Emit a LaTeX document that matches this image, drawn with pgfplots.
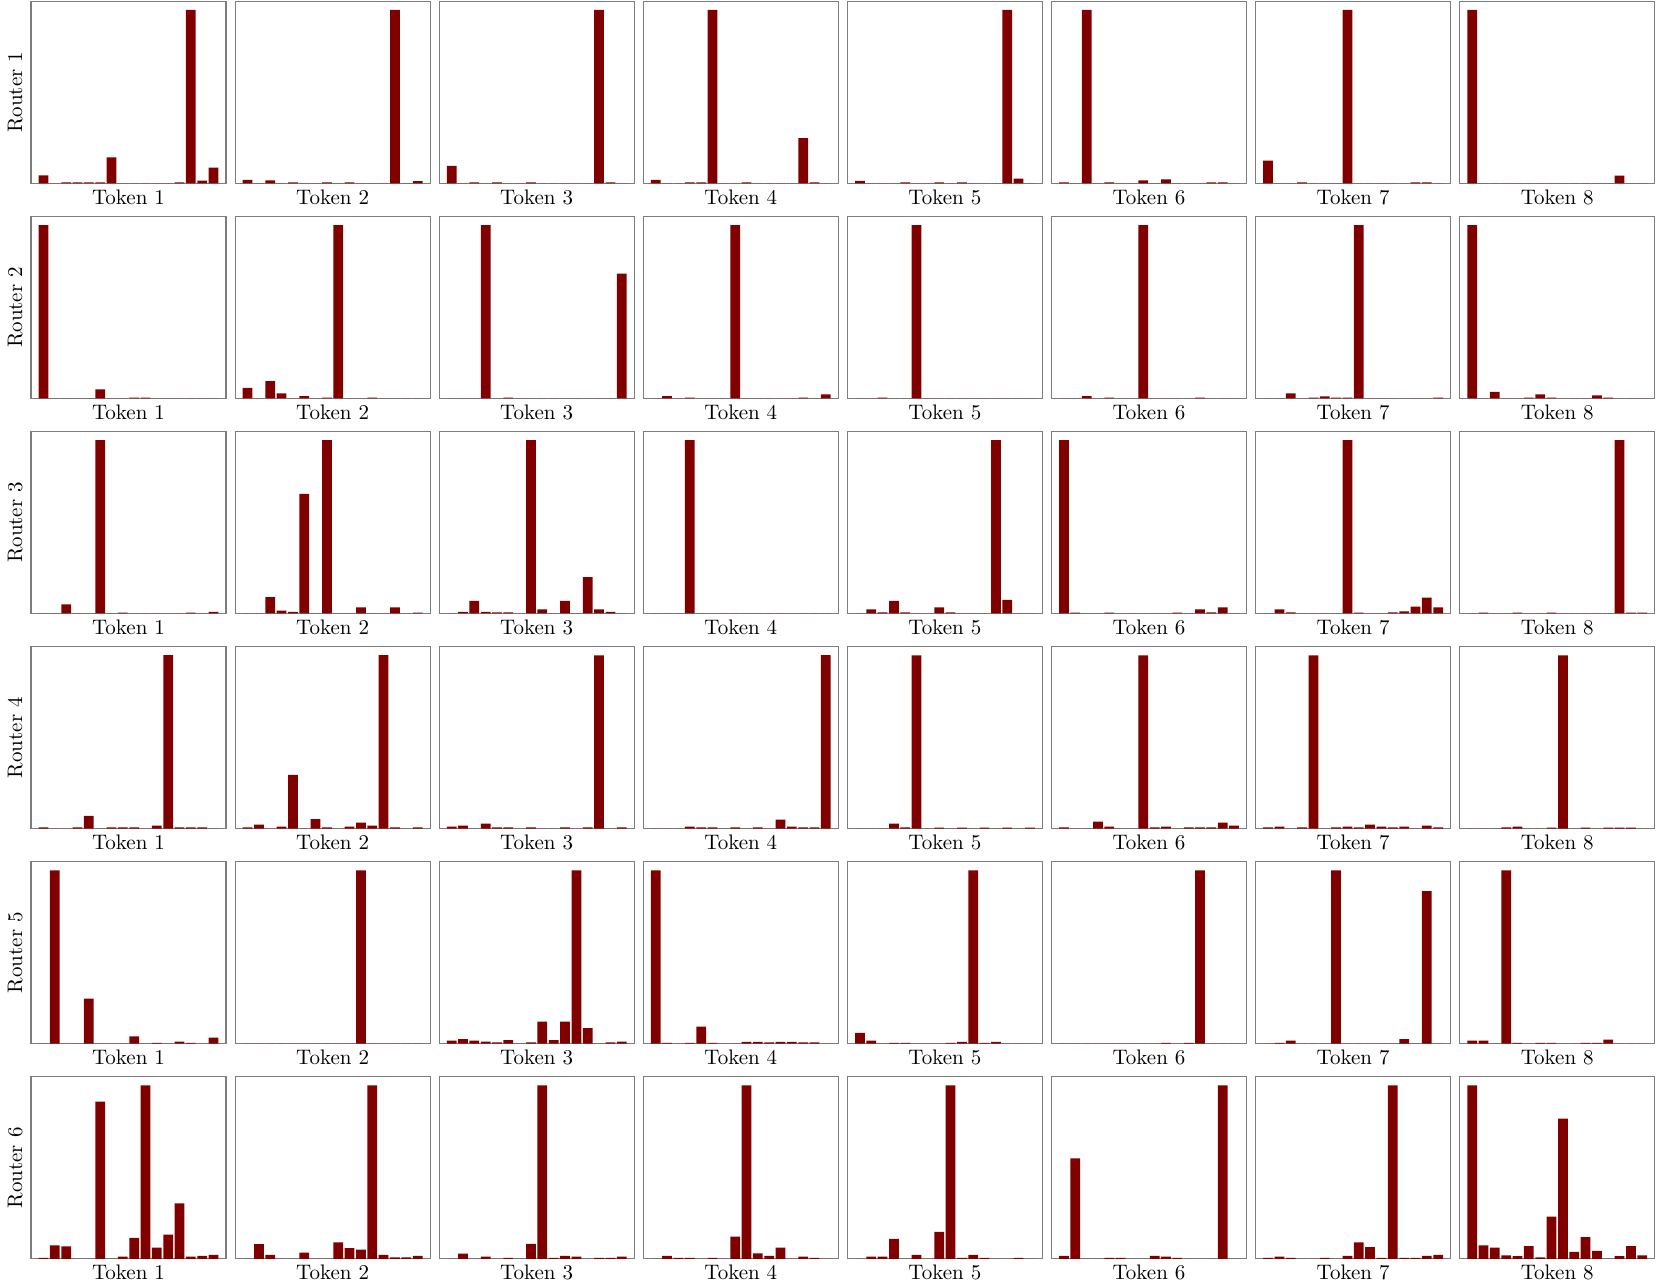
\documentclass[border=0pt]{standalone}
\usepackage{pgfplots}
\pgfplotsset{compat=1.18}
\definecolor{barred}{RGB}{128,0,0}
\definecolor{framegray}{RGB}{125,125,125}
\pgfplotsset{
  panel/.style={
    scale only axis, width=97.5pt, height=91pt,
    anchor=south west,
    xmin=-1.1, xmax=16.1, ymin=0, ymax=1.05,
    ticks=none,
    axis line style={draw=framegray, line width=0.6pt},
    every axis x label/.style={at={(axis description cs:0.5,-0.1154)}, anchor=base, inner sep=0pt, font=\fontsize{10.5}{12}\selectfont},
    every axis y label/.style={at={(axis description cs:-0.046,0.5)}, rotate=90, anchor=base, inner sep=0pt, font=\fontsize{10.5}{12}\selectfont},
    ybar, bar width=0.86, bar shift=0pt,
  }
}
\newcommand{\panel}[3]{%
\begin{axis}[panel, at={(15.5pt+102.05pt*#1,549.85pt-107.55pt*#2)},
  xlabel={Token \the\numexpr#1+1\relax},
  ylabel={\ifnum#1=0 Router \the\numexpr#2+1\relax\fi}]
\addplot[fill=barred, draw=none] table[header=false, row sep=\\, x expr=\coordindex, y index=0] {#3};
\end{axis}}
\begin{document}
\begin{tikzpicture}
\useasboundingbox (0,0) rectangle (830.5pt,641.5pt);
% Router 1
\panel{0}{0}{0.045\\0\\0.005\\0.005\\0.005\\0.005\\0.15\\0\\0\\0\\0\\0\\0.005\\1\\0.015\\0.09\\}
\panel{1}{0}{0.02\\0\\0.017\\0\\0.005\\0\\0\\0.005\\0\\0.005\\0\\0\\0\\1\\0\\0.012\\}
\panel{2}{0}{0.1\\0\\0.005\\0\\0.005\\0\\0\\0.005\\0\\0\\0\\0\\0\\1\\0.005\\0\\}
\panel{3}{0}{0.02\\0\\0\\0.005\\0.005\\1\\0\\0\\0.005\\0\\0\\0\\0\\0.26\\0.005\\0\\}
\panel{4}{0}{0.014\\0\\0\\0\\0.005\\0\\0\\0.005\\0\\0.005\\0\\0\\0\\1\\0.027\\0\\}
\panel{5}{0}{0.005\\0\\1\\0\\0.005\\0\\0\\0.017\\0\\0.023\\0\\0\\0\\0.005\\0.005\\0\\}
\panel{6}{0}{0.13\\0\\0\\0.005\\0\\0\\0\\1\\0\\0\\0\\0\\0\\0.005\\0.005\\0\\}
\panel{7}{0}{1\\0\\0\\0\\0\\0\\0\\0\\0\\0\\0\\0\\0\\0.044\\0\\0\\}
% Router 2
\panel{0}{1}{1\\0\\0\\0\\0\\0.052\\0\\0\\0.005\\0.005\\0\\0\\0\\0\\0\\0\\}
\panel{1}{1}{0.061\\0\\0.1\\0.029\\0\\0.013\\0\\0.005\\1\\0\\0\\0.005\\0\\0\\0\\0\\}
\panel{2}{1}{0\\0\\0\\1\\0\\0.005\\0\\0\\0\\0\\0\\0\\0\\0\\0\\0.72\\}
\panel{3}{1}{0\\0.013\\0\\0.005\\0\\0\\0\\1\\0\\0\\0\\0\\0\\0.005\\0\\0.023\\}
\panel{4}{1}{0\\0\\0.005\\0\\0\\1\\0\\0\\0\\0\\0\\0\\0\\0\\0\\0\\}
\panel{5}{1}{0\\0\\0.013\\0\\0.005\\0\\0\\1\\0\\0\\0\\0\\0.005\\0\\0\\0\\}
\panel{6}{1}{0\\0\\0.029\\0\\0.005\\0.012\\0.005\\0.005\\1\\0\\0\\0\\0\\0\\0\\0.005\\}
\panel{7}{1}{1\\0\\0.038\\0\\0\\0.005\\0.023\\0.005\\0\\0\\0\\0.017\\0.005\\0\\0\\0\\}
% Router 3
\panel{0}{2}{0\\0\\0.052\\0\\0\\1\\0\\0.005\\0\\0\\0\\0\\0\\0.005\\0\\0.01\\}
\panel{1}{2}{0\\0\\0.094\\0.017\\0.01\\0.69\\0\\1\\0\\0\\0.035\\0\\0\\0.035\\0\\0.005\\}
\panel{2}{2}{0\\0.01\\0.073\\0.01\\0.007\\0.007\\0\\1\\0.023\\0\\0.073\\0\\0.21\\0.023\\0.01\\0\\}
\panel{3}{2}{0\\0\\0\\1\\0\\0\\0\\0\\0\\0\\0\\0\\0\\0\\0\\0\\}
\panel{4}{2}{0\\0.023\\0.007\\0.073\\0.007\\0\\0\\0.035\\0.007\\0\\0\\0\\1\\0.079\\0\\0\\}
\panel{5}{2}{1\\0.005\\0\\0\\0.005\\0\\0\\0\\0\\0\\0.005\\0\\0.023\\0.007\\0.035\\0\\}
\panel{6}{2}{0\\0.023\\0.007\\0\\0\\0\\0\\1\\0.005\\0\\0\\0.007\\0.012\\0.04\\0.092\\0.035\\}
\panel{7}{2}{0\\0.005\\0\\0\\0.005\\0\\0\\0.005\\0\\0\\0\\0\\0\\1\\0.005\\0.005\\}
% Router 4
\panel{0}{3}{0.007\\0\\0\\0.007\\0.073\\0\\0.007\\0.007\\0.007\\0\\0.017\\1\\0.007\\0.007\\0.007\\0\\}
\panel{1}{3}{0.007\\0.023\\0\\0.012\\0.31\\0\\0.054\\0.007\\0\\0.012\\0.035\\0.017\\1\\0.007\\0\\0.007\\}
\panel{2}{3}{0.012\\0.017\\0\\0.029\\0.007\\0.007\\0\\0.007\\0\\0\\0.007\\0\\0.007\\1\\0\\0.007\\}
\panel{3}{3}{0\\0\\0\\0.012\\0.007\\0.007\\0\\0.007\\0\\0.007\\0\\0.052\\0.012\\0.007\\0.007\\1\\}
\panel{4}{3}{0\\0\\0\\0.029\\0.007\\1\\0\\0.005\\0\\0.005\\0\\0.005\\0\\0.005\\0\\0.005\\}
\panel{5}{3}{0.007\\0\\0\\0.04\\0.012\\0\\0\\1\\0.007\\0.012\\0\\0.007\\0.007\\0.007\\0.035\\0.017\\}
\panel{6}{3}{0.007\\0.012\\0\\0.007\\1\\0\\0.007\\0.012\\0.007\\0.023\\0.012\\0.007\\0.012\\0\\0.017\\0.007\\}
\panel{7}{3}{0\\0\\0\\0.007\\0.012\\0\\0\\0.005\\1\\0\\0.005\\0\\0.005\\0.005\\0.005\\0\\}
% Router 5
\panel{0}{4}{0\\1\\0\\0\\0.26\\0\\0\\0\\0.042\\0\\0.005\\0\\0.012\\0.005\\0\\0.035\\}
\panel{1}{4}{0\\0\\0\\0\\0\\0\\0\\0\\0\\0\\1\\0\\0\\0\\0\\0\\}
\panel{2}{4}{0.017\\0.027\\0.017\\0.012\\0.007\\0.021\\0\\0.007\\0.127\\0.021\\0.127\\1\\0.09\\0\\0.007\\0.012\\}
\panel{3}{4}{1\\0.005\\0\\0.005\\0.098\\0.005\\0\\0\\0.01\\0.01\\0.007\\0.01\\0.01\\0.007\\0.007\\0\\}
\panel{4}{4}{0.063\\0.017\\0\\0.005\\0.005\\0\\0\\0\\0.005\\0.01\\1\\0.005\\0.01\\0\\0\\0\\}
\panel{5}{4}{0\\0\\0\\0\\0\\0\\0\\0\\0\\0.005\\0\\0.005\\1\\0\\0\\0\\}
\panel{6}{4}{0\\0.005\\0.017\\0\\0\\0\\1\\0\\0\\0\\0\\0\\0.027\\0\\0.88\\0\\}
\panel{7}{4}{0.017\\0.017\\0\\1\\0.005\\0\\0.005\\0.005\\0\\0\\0.005\\0.005\\0.023\\0\\0\\0\\}
% Router 6
\panel{0}{5}{0.006\\0.078\\0.071\\0\\0\\0.906\\0\\0.013\\0.12\\1\\0.065\\0.14\\0.32\\0.013\\0.017\\0.023\\}
\panel{1}{5}{0\\0.084\\0.023\\0\\0\\0.036\\0\\0\\0.094\\0.061\\0.053\\1\\0.023\\0.008\\0.008\\0.017\\}
\panel{2}{5}{0\\0.03\\0\\0.012\\0\\0.006\\0\\0.086\\1\\0.005\\0.017\\0.013\\0\\0.006\\0.006\\0.013\\}
\panel{3}{5}{0\\0.017\\0.006\\0.006\\0\\0.006\\0\\0.128\\1\\0.031\\0.017\\0.065\\0\\0.013\\0.006\\0\\}
\panel{4}{5}{0\\0.013\\0.013\\0.115\\0\\0.023\\0\\0.155\\1\\0.005\\0.023\\0.006\\0\\0\\0.006\\0\\}
\panel{5}{5}{0.017\\0.58\\0\\0\\0.006\\0.006\\0\\0\\0.017\\0.013\\0.006\\0\\0\\0\\1\\0\\}
\panel{6}{5}{0.006\\0.013\\0.006\\0\\0\\0.006\\0\\0.017\\0.094\\0.067\\0.006\\1\\0.006\\0.006\\0.017\\0.023\\}
\panel{7}{5}{1\\0.077\\0.065\\0.019\\0.015\\0.073\\0.008\\0.243\\0.808\\0.04\\0.125\\0.046\\0\\0.015\\0.073\\0.019\\}
\end{tikzpicture}
\end{document}
